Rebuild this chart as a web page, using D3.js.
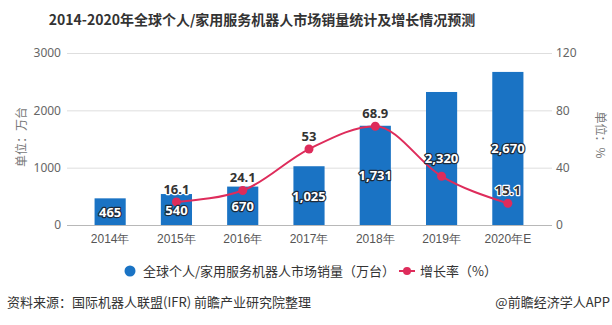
<!DOCTYPE html>
<html>
<head>
<meta charset="utf-8">
<script src="https://cdn.jsdelivr.net/npm/d3@7/dist/d3.min.js"></script>
<style>
  html, body { margin: 0; padding: 0; background: #fff; }
  svg { display: block; font-family: "Noto Sans CJK SC", "Noto Sans", sans-serif; }
</style>
</head>
<body>
<svg id="chart" width="612" height="325"></svg>
<script>
// Sales volume (10k units) and year-on-year growth (%)
const years = ["2014年", "2015年", "2016年", "2017年", "2018年", "2019年", "2020年E"];
const sales = [465, 540, 670, 1025, 1731, 2320, 2670];
const growth = [null, 16.1, 24.1, 53, 68.9, 34.0, 15.1];
const growthLabels = [null, "16.1", "24.1", "53", "68.9", null, "15.1"];
const leftTicks = [0, 1000, 2000, 3000];
const rightTicks = [0, 40, 80, 120];

const blue = "#1a73c4";
const red = "#de2c5b";

const svg = d3.select("#chart");

const plot = { left: 67, right: 552, top: 53, bottom: 225 };

const x = d3.scaleBand().domain(years).range([77, 541]).paddingInner(0.53).paddingOuter(0.265);
const yL = d3.scaleLinear().domain([0, 3000]).range([plot.bottom, plot.top]);
const yR = d3.scaleLinear().domain([0, 120]).range([plot.bottom, plot.top]);

// Title
svg.append("text")
  .attr("x", 262).attr("y", 25)
  .attr("text-anchor", "middle")
  .attr("font-size", 14).attr("font-weight", "bold").attr("fill", "#333")
  .text("2014-2020年全球个人/家用服务机器人市场销量统计及增长情况预测");

// Grid lines
svg.append("g").selectAll("line").data(leftTicks).join("line")
  .attr("x1", plot.left).attr("x2", plot.right)
  .attr("y1", d => yL(d) + 0.5).attr("y2", d => yL(d) + 0.5)
  .attr("stroke", d => d === 0 ? "#b8b8b8" : "#dedede").attr("stroke-width", 1);

// Left axis
const axL = svg.append("g").attr("transform", `translate(${plot.left},0)`)
  .call(d3.axisLeft(yL).tickValues(leftTicks).tickSize(0).tickPadding(6).tickFormat(d3.format("d")));
axL.select(".domain").remove();
axL.selectAll("text").attr("font-size", 12).attr("fill", "#666").attr("font-family", "Noto Sans, sans-serif");

// Right axis
const axR = svg.append("g").attr("transform", `translate(${plot.right},0)`)
  .call(d3.axisRight(yR).tickValues(rightTicks).tickSize(0).tickPadding(4));
axR.select(".domain").remove();
axR.selectAll("text").attr("font-size", 12).attr("fill", "#666").attr("font-family", "Noto Sans, sans-serif");

// Bottom axis labels
const axB = svg.append("g").attr("transform", `translate(0,${plot.bottom})`)
  .call(d3.axisBottom(x).tickSize(0).tickPadding(9));
axB.select(".domain").remove();
axB.selectAll("text").attr("font-size", 12).attr("fill", "#555");

// Axis titles
svg.append("text")
  .attr("transform", "translate(26,137) rotate(-90)")
  .attr("text-anchor", "middle").attr("font-size", 12).attr("fill", "#777")
  .text("单位：万台");
svg.append("text")
  .attr("transform", "translate(596,135) rotate(90)")
  .attr("text-anchor", "middle").attr("font-size", 12).attr("fill", "#777")
  .text("单位：%");

// Bars
svg.append("g").selectAll("rect").data(sales).join("rect")
  .attr("x", (d, i) => x(years[i]))
  .attr("width", x.bandwidth())
  .attr("y", d => yL(d))
  .attr("height", d => yL(0) - yL(d))
  .attr("fill", blue);

// Growth line
const pts = growth.map((g, i) => ({ g, i })).filter(p => p.g !== null);
const cx = i => x(years[i]) + x.bandwidth() / 2;
const line = d3.line().x(p => cx(p.i)).y(p => yR(p.g)).curve(d3.curveMonotoneX);
svg.append("path").datum(pts)
  .attr("d", line).attr("fill", "none").attr("stroke", red).attr("stroke-width", 2);
svg.append("g").selectAll("circle").data(pts).join("circle")
  .attr("cx", p => cx(p.i)).attr("cy", p => yR(p.g)).attr("r", 4.5).attr("fill", red);

// Bar value labels (white with dark outline)
svg.append("g").selectAll("text").data(sales).join("text")
  .attr("x", (d, i) => cx(i))
  .attr("y", d => (yL(d) + yL(0)) / 2 + 5)
  .attr("text-anchor", "middle")
  .attr("font-size", 13).attr("font-weight", "bold")
  .attr("font-family", "Noto Sans, sans-serif")
  .attr("fill", "#fff").attr("stroke", "#1d2a3a").attr("stroke-width", 2.4)
  .attr("paint-order", "stroke").attr("stroke-linejoin", "round")
  .text(d => d3.format(",")(d));

// Growth value labels
svg.append("g").selectAll("text").data(pts.filter(p => growthLabels[p.i])).join("text")
  .attr("x", p => cx(p.i))
  .attr("y", p => yR(p.g) - 8)
  .attr("text-anchor", "middle")
  .attr("font-size", 13).attr("font-weight", "bold")
  .attr("font-family", "Noto Sans, sans-serif")
  .attr("fill", "#333").attr("stroke", "#fff").attr("stroke-width", 2.4)
  .attr("paint-order", "stroke").attr("stroke-linejoin", "round")
  .text(p => growthLabels[p.i]);

// Legend
const lg = svg.append("g");
lg.append("circle").attr("cx", 130).attr("cy", 271).attr("r", 5.5).attr("fill", blue);
lg.append("text").attr("x", 143).attr("y", 276).attr("font-size", 13).attr("fill", "#333")
  .text("全球个人/家用服务机器人市场销量（万台）");
lg.append("line").attr("x1", 399).attr("x2", 415).attr("y1", 271).attr("y2", 271)
  .attr("stroke", red).attr("stroke-width", 2);
lg.append("circle").attr("cx", 407).attr("cy", 271).attr("r", 4).attr("fill", red);
lg.append("text").attr("x", 420).attr("y", 276).attr("font-size", 13).attr("fill", "#333")
  .text("增长率（%）");

// Footer
svg.append("text").attr("x", 7).attr("y", 307).attr("font-size", 13).attr("fill", "#333")
  .text("资料来源：国际机器人联盟(IFR) 前瞻产业研究院整理");
svg.append("text").attr("x", 610).attr("y", 307).attr("text-anchor", "end")
  .attr("font-size", 13).attr("fill", "#333")
  .text("@前瞻经济学人APP");
</script>
</body>
</html>
